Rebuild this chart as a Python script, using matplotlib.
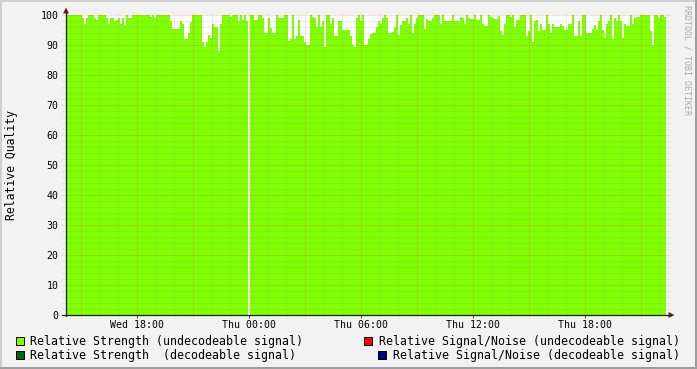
import numpy as np
import matplotlib
matplotlib.use("Agg")
import matplotlib.pyplot as plt
from matplotlib.patches import Rectangle, Polygon
from matplotlib.lines import Line2D

W, H, DPI = 697, 369, 100

# ---------------- data ----------------
start_hour = 14.196          # hours after Wed 00:00
step_hours = 0.10714         # sample spacing (hours)
strength_undecodeable = [
    100, 100, 100, 100, 100, 100, 100, 100, 99, 97,
    99, 100, 100, 100, 99, 98.5, 100, 100, 100, 100,
    99, 97, 99, 99, 98, 98.5, 99, 97, 99, 96.8,
    100, 99, 99, 100, 100, 100, 100, 100, 100, 100,
    100, 100, 99.5, 100, 99, 100, 100, 100, 100, 100,
    100, 100, 98, 95.5, 95.5, 95.5, 95.5, 98, 97, 92,
    92, 94, 97.7, 100, 100, 100, 100, 100, 91, 89.3,
    91, 93.2, 92.3, 97, 96, 96, 88, 97, 100, 100,
    100, 100, 99.5, 100, 100, 100, 98, 100, 98.5, 100,
    98, np.nan, 100, 100, 98.5, 98.5, 100, 100, 99, 94,
    94, 99, 95.7, 94, 94, 100, 99, 99, 99, 100,
    100, 91.2, 92, 100, 92, 93, 98.2, 93, 93, 91,
    90, 90, 100, 99.5, 99, 96, 100, 96, 98, 89.3,
    100, 100, 97, 99, 93, 93, 98, 98, 95, 95,
    95, 95, 93, 90, 89.3, 99, 100, 98, 100, 90,
    90, 92, 93.8, 94, 94, 96, 98, 97, 99, 100,
    99, 94, 94, 94.5, 96, 100, 93.2, 96.8, 98, 98,
    99, 97, 100, 94, 97, 99, 100, 100, 100, 95.4,
    98.8, 98, 98, 99, 100, 100, 100, 97, 100, 98,
    98, 98, 98, 100, 98, 98, 98, 99.3, 99, 97,
    100, 99, 98.8, 98.8, 100, 98.5, 98.5, 100, 97, 96.3,
    96.3, 100, 99.5, 99, 98.8, 98.8, 99.7, 94.6, 93.5, 97,
    100, 100, 99.5, 100, 96, 98.2, 98.2, 100, 100, 100,
    93, 94.6, 100, 91, 98, 98.5, 94.6, 97, 95, 95,
    100, 97, 94, 97, 96, 96, 96, 97, 96.3, 95,
    95, 97, 97, 100, 93, 93, 98, 93, 100, 100,
    94.1, 94.1, 94.1, 95.4, 96.8, 95, 98, 100, 95, 92.3,
    97, 98, 100, 92, 99, 98, 100, 98, 92.3, 97,
    96.3, 96.3, 100, 97, 99, 99.5, 99.5, 100, 100, 100,
    100, 100, 94.6, 90, 100, 100, 99, 100, 100, 99.5,
]
tick_hours = [18, 24, 30, 36, 42]
tick_labels = ["Wed 18:00", "Thu 00:00", "Thu 06:00", "Thu 12:00", "Thu 18:00"]
y_ticks = [0, 10, 20, 30, 40, 50, 60, 70, 80, 90, 100]
legend_labels = [
    "Relative Strength (undecodeable signal)",
    "Relative Signal/Noise (undecodeable signal)",
    "Relative Strength  (decodeable signal)",
    "Relative Signal/Noise (decodeable signal)",
]
legend_colors = ["#80FF00", "#FF0000", "#006400", "#000090"]
y_label = "Relative Quality"
watermark = "RRDTOOL / TOBI OETIKER"

# ---------------- figure ----------------
plt.rcParams["font.family"] = ["DejaVu Sans Mono"]
fig = plt.figure(figsize=(W / DPI, H / DPI), dpi=DPI, facecolor="#F2F2F2")

L, R, T, B = 66, 666, 15, 315
ax = fig.add_axes([L / W, (H - B) / H, (R - L) / W, (B - T) / H])
ax.set_facecolor("white")

vals = np.array(strength_undecodeable, dtype=float)
times = start_hour + step_hours * np.arange(len(vals))
x0 = start_hour
x1 = start_hour + step_hours * len(vals)
ax.bar(times, vals, width=step_hours, align="edge", color=legend_colors[0],
       linewidth=0, antialiased=False, zorder=1)
ax.set_xlim(x0, x1)
ax.set_ylim(0, 100)

for s in ax.spines.values():
    s.set_visible(False)

minor_c = (0.56, 0.56, 0.56, 0.30)
major_c = (0.87, 0.31, 0.31, 0.35)
ext_x = 4 / (R - L)
ext_y = 3 / (B - T)
# horizontal grid
for yv in range(2, 101, 2):
    c = major_c if yv % 10 == 0 else minor_c
    ax.axhline(yv, xmin=-ext_x, xmax=1 + ext_x, color=c, lw=0.72,
               ls=(0, (1, 1)), zorder=3, clip_on=False)
# vertical grid
for hv in range(15, 47):
    c = major_c if hv % 3 == 0 else minor_c
    ax.axvline(hv, ymin=-ext_y, ymax=1 + ext_y, color=c, lw=0.72,
               ls=(0, (1, 1)), zorder=3, clip_on=False)

ax.set_xticks(tick_hours, tick_labels)
ax.set_yticks(y_ticks, [str(v) for v in y_ticks])
ax.tick_params(axis="x", length=2.2, width=0.8, color="#555555", pad=1.5,
               labelsize=7.1, labelcolor="black")
ax.tick_params(axis="y", length=0, pad=5.5, labelsize=7.1, labelcolor="black")

# overlay in pixel coordinates
ov = fig.add_axes([0, 0, 1, 1])
ov.set_xlim(0, W)
ov.set_ylim(H, 0)
ov.axis("off")

axis_c = "#1F1F1F"
arrow_c = "#801F1F"
ov.add_line(Line2D([L, L], [B + 1, 10], color=axis_c, lw=0.9))
ov.add_line(Line2D([L - 4, 671], [B, B], color=axis_c, lw=0.9))
ov.add_patch(Polygon([[L - 3, 13.5], [L + 3, 13.5], [L, 7.5]], closed=True,
                     color=arrow_c, lw=0))
ov.add_patch(Polygon([[668.5, B - 3], [668.5, B + 3], [674.5, B]], closed=True,
                     color=arrow_c, lw=0))

# border shading
ov.add_patch(Rectangle((0, 0), W, 2, color="#CFCFCF", lw=0))
ov.add_patch(Rectangle((0, 0), 2, H, color="#CFCFCF", lw=0))
ov.add_patch(Rectangle((0, H - 2), W, 2, color="#9E9E9E", lw=0))
ov.add_patch(Rectangle((W - 2, 0), 2, H, color="#9E9E9E", lw=0))

# y label
ov.text(12, 165, y_label, rotation=90, ha="center", va="center",
        fontsize=8.3, color="black")
# watermark
ov.text(687, 5, watermark, rotation=270, ha="center", va="top",
        fontsize=6.0, color="#AAAAAA")

# legend
rows = [341, 355]
fs = 8.35
fig.canvas.draw()
renderer = fig.canvas.get_renderer()
# left column
for k, (lab, col) in enumerate([(legend_labels[0], legend_colors[0]),
                                (legend_labels[2], legend_colors[2])]):
    y = rows[k]
    ov.add_patch(Rectangle((15.5, y - 4), 8, 8, facecolor=col,
                           edgecolor="black", lw=0.7))
    ov.text(30, y, lab, ha="left", va="center", fontsize=fs, color="black")
# right column (right aligned)
for k, (lab, col) in enumerate([(legend_labels[1], legend_colors[1]),
                                (legend_labels[3], legend_colors[3])]):
    y = rows[k]
    t = ov.text(680, y, lab, ha="right", va="center", fontsize=fs, color="black")
    bb = t.get_window_extent(renderer=renderer)
    xs = bb.x0  # pixels from left
    ov.add_patch(Rectangle((xs - 15, y - 4), 8, 8, facecolor=col,
                           edgecolor="black", lw=0.7))

fig.savefig("out.png", dpi=DPI, facecolor=fig.get_facecolor())
